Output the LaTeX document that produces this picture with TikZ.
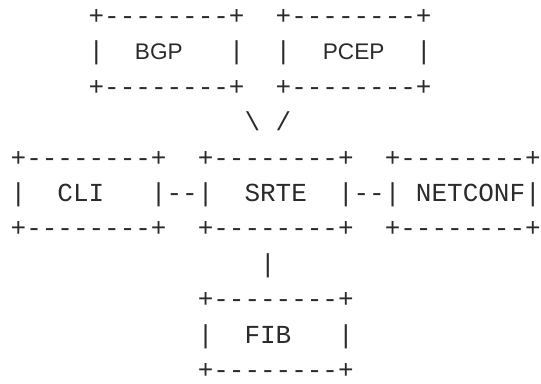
\documentclass[tikz,border=0pt]{standalone}
\usepackage{fontspec}
\setmonofont{Liberation Mono}
\newfontfamily\labelsans{Liberation Sans}
\definecolor{inkgray}{HTML}{2B2B2B}
\begin{document}
\begin{tikzpicture}[x=1pt,y=1pt,
  asciirow/.style={anchor=base west,inner sep=0pt,outer sep=0pt,text=inkgray,
    text depth=0pt,font=\fontsize{25.98}{30}\ttfamily},
  sanslabel/.style={anchor=base,inner sep=0pt,outer sep=0pt,text=inkgray,
    text depth=0pt,font=\fontsize{22.6}{26}\labelsans}]
\useasboundingbox (0,0) rectangle (541,383);
% column c starts at x = 10.7 + 15.59*c ; row k baseline at y = 358.5 - 35.4*k
\node[asciirow] (r0) at (10.7+15.59*5, 358.5) {+--------+~~+--------+};
\node[asciirow] (r1) at (10.7+15.59*5, 323.1) {|~~~~~~~~|~~|~~~~~~~~|};
\node[sanslabel] (bgp) at (10.7+15.59*9.5, 323.1) {BGP};
\node[sanslabel] (pcep) at (10.7+15.59*22, 323.1) {PCEP};
\node[asciirow] (r2) at (10.7+15.59*5, 287.7) {+--------+~~+--------+};
\node[asciirow] (r3) at (10.7+15.59*15, 252.3) {\textbackslash~/};
\node[asciirow] (r4) at (10.7, 216.9) {+--------+~~+--------+~~+--------+};
\node[asciirow] (r5) at (10.7, 181.5) {|~~CLI~~~|--|~~SRTE~~|--|~NETCONF|};
\node[asciirow] (r6) at (10.7, 146.1) {+--------+~~+--------+~~+--------+};
\node[asciirow] (r7) at (10.7+15.59*16, 110.7) {|};
\node[asciirow] (r8) at (10.7+15.59*12, 75.3) {+--------+};
\node[asciirow] (r9) at (10.7+15.59*12, 39.9) {|~~FIB~~~|};
\node[asciirow] (r10) at (10.7+15.59*12, 4.5) {+--------+};
\end{tikzpicture}
\end{document}
